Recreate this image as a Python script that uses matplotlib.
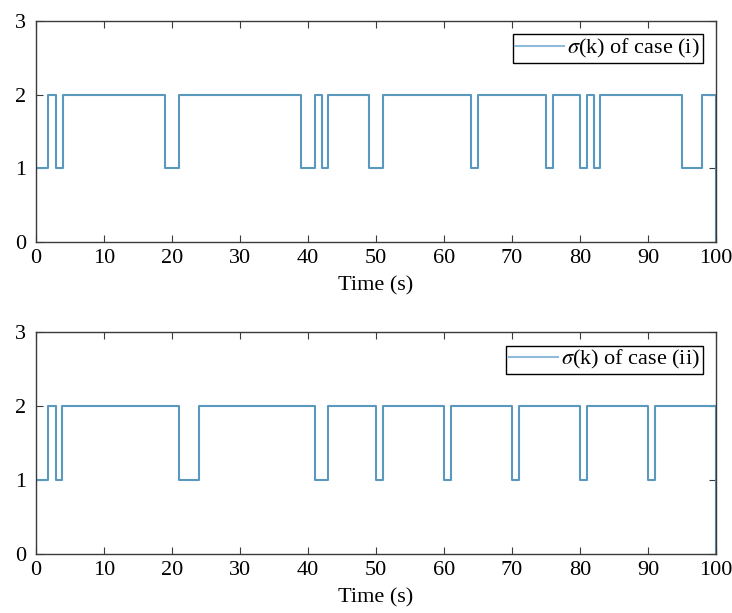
import numpy as np
import matplotlib
matplotlib.use('Agg')
from matplotlib import pyplot as plt

# switching instants (s) and the mode held from each instant on
t_case1 = [0, 1.7, 2.9, 3.9, 19, 21, 39, 41, 42, 43, 49, 51, 64, 65, 75, 76, 80, 81, 82, 83, 95, 98, 100]
sigma_case1 = [1, 2, 1, 2, 1, 2, 1, 2, 1, 2, 1, 2, 1, 2, 1, 2, 1, 2, 1, 2, 1, 2, 0]

t_case2 = [0, 1.8, 2.9, 3.8, 21, 24, 41, 43, 50, 51, 60, 61, 70, 71, 80, 81, 90, 91, 100]
sigma_case2 = [1, 2, 1, 2, 1, 2, 1, 2, 1, 2, 1, 2, 1, 2, 1, 2, 1, 2, 0]

labels = [r'$\sigma$(k) of case (i)', r'$\sigma$(k) of case (ii)']
xticks = np.arange(0, 101, 10)
yticks = [0, 1, 2, 3]

plt.rcParams['font.family'] = ['Liberation Serif', 'DejaVu Serif']
plt.rcParams['mathtext.fontset'] = 'stix'
plt.rcParams['font.size'] = 16

line_color = '#5b98bd'
spine_color = '#3a3a3a'

fig = plt.figure(figsize=(7.32, 6.13), dpi=100)
ax1 = fig.add_axes([0.0492, 0.605, 0.929, 0.3605])
ax2 = fig.add_axes([0.0492, 0.0962, 0.929, 0.3615])

for ax, t, s, lab in [(ax1, t_case1, sigma_case1, labels[0]),
                      (ax2, t_case2, sigma_case2, labels[1])]:
    ax.plot(t, s, drawstyle='steps-post', color=line_color, lw=1.5, label=lab)
    ax.set_xlim(0, 100)
    ax.set_ylim(0, 3)
    ax.set_xticks(xticks)
    ax.set_yticks(yticks)
    ax.set_xlabel('Time (s)', labelpad=6)
    ax.tick_params(direction='in', top=True, right=True, length=5,
                   color=spine_color)
    ax.tick_params(axis='x', pad=5)
    ax.tick_params(axis='y', pad=7)
    for sp in ax.spines.values():
        sp.set_color(spine_color)
        sp.set_linewidth(1.0)
    leg = ax.legend(loc='upper right', fancybox=False, framealpha=1,
                    edgecolor='black', handlelength=2.2, handletextpad=0.15,
                    borderpad=0.12, borderaxespad=0.6, fontsize=16)
    leg.get_frame().set_linewidth(1.0)
    leg.get_lines()[0].set_color('#8dbbd8')

fig.savefig('out.png', dpi=100)
